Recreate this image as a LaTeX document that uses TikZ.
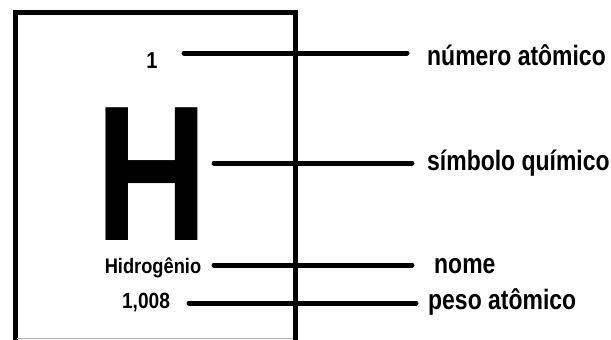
\documentclass[tikz,border=0pt]{standalone}
\usepackage{fontspec}
\setmainfont{Liberation Sans}[FakeStretch=0.87]
\newfontfamily\Hfont{Liberation Sans}[FakeStretch=0.81]
\newfontfamily\Rfont{Liberation Sans}[FakeStretch=0.82]
\begin{document}
\begin{tikzpicture}[x=1pt,y=-1pt,
  lbl/.style={inner sep=0pt,anchor=base,font=\bfseries\fontsize{22}{22}\selectfont},
  rlbl/.style={inner sep=0pt,anchor=base west,font=\Rfont\bfseries\fontsize{28}{28}\selectfont},
  conn/.style={line width=5pt,line cap=round},
  frame/.style={line width=5pt}]
\fill[white] (0,0) rectangle (611,340);
\useasboundingbox (0,0) rectangle (611,340);
% element box (open at bottom)
\coordinate (bl) at (15,341);
\coordinate (tl) at (15,12.5);
\coordinate (tr) at (295,12.5);
\coordinate (br) at (295,341);
\draw[frame] (bl) -- (tl) -- (tr) -- (br);
\coordinate (g1) at (17,338.5);
\coordinate (g2) at (293,338.5);
\draw[gray!60,line width=1pt] (g1) -- (g2);
% texts in the box
\node[lbl,font=\bfseries\fontsize{23}{23}\selectfont] (num) at (152,68) {1};
\node[inner sep=0pt,anchor=base,text depth=0pt,font=\Hfont\bfseries\fontsize{193}{193}\selectfont] (sym) at (152,240) {H};
\node[lbl,font=\bfseries\fontsize{21}{21}\selectfont] (name) at (153,273) {Hidrogênio};
\node[lbl,font=\bfseries\fontsize{22}{22}\selectfont] (mass) at (146,308) {1,008};
% labels
\node[rlbl] (lnum) at (427,65) {número atômico};
\node[rlbl] (lsym) at (427,170) {símbolo químico};
\node[rlbl] (lname) at (434,273) {nome};
\node[rlbl] (lmass) at (428,309) {peso atômico};
% connectors
\coordinate (s1) at (184,53);  \coordinate (e1) at (407,53);
\coordinate (s2) at (214,163); \coordinate (e2) at (412,163);
\coordinate (s3) at (214,265); \coordinate (e3) at (412,265);
\coordinate (s4) at (189,303); \coordinate (e4) at (416,303);
\draw[conn] (s1) -- (e1);
\draw[conn] (s2) -- (e2);
\draw[conn] (s3) -- (e3);
\draw[conn] (s4) -- (e4);
\end{tikzpicture}
\end{document}
